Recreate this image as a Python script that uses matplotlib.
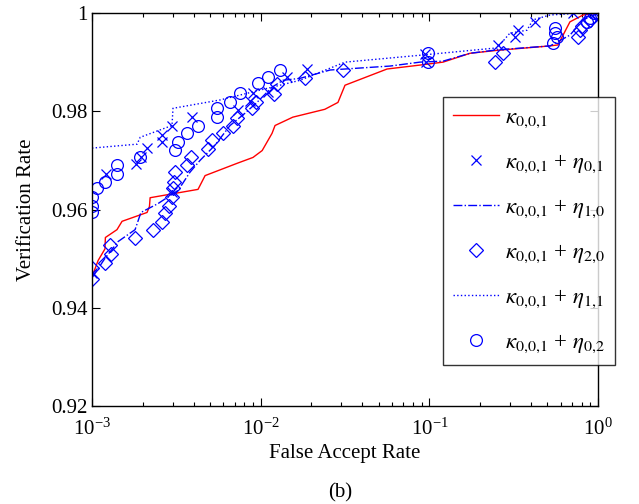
import numpy as np
import matplotlib
matplotlib.use('Agg')
import matplotlib.pyplot as plt
from matplotlib.ticker import LogLocator, NullFormatter, FixedLocator

plt.rcParams['font.family'] = ['Liberation Serif', 'DejaVu Serif']
plt.rcParams['mathtext.fontset'] = 'stix'

# kappa_{0,0,1} (red solid)
far_k = [0.00101, 0.001086, 0.001194, 0.0012, 0.001406, 0.001507, 0.00212, 0.00219, 0.00221,
         0.00425, 0.00468, 0.00724, 0.009, 0.0102, 0.01167, 0.01216, 0.0155, 0.024, 0.0287,
         0.0316, 0.0561, 0.0879, 0.1205, 0.174, 0.252, 0.519, 0.578, 0.681, 0.815, 1.0]
vr_k = [0.9467, 0.9496, 0.952, 0.9543, 0.9559, 0.9576, 0.9594, 0.9606, 0.9624,
        0.9641, 0.9669, 0.9694, 0.9706, 0.972, 0.9755, 0.9771, 0.9788, 0.9804, 0.9818,
        0.9853, 0.9886, 0.9894, 0.990, 0.9918, 0.9924, 0.9933, 0.9935, 0.9982, 0.9996, 1.0]

# + eta_{0,1} (x markers)
far_e01 = [0.001, 0.00121, 0.00182, 0.00195, 0.00212, 0.0026, 0.0026, 0.00298, 0.00298,
           0.00392, 0.00733, 0.00864, 0.009, 0.011, 0.0143, 0.0188, 0.0942, 0.0955,
           0.255, 0.321, 0.335, 0.423, 0.71, 0.96]
vr_e01 = [0.9471, 0.9673, 0.9692, 0.9706, 0.9725, 0.9751, 0.9737, 0.9771, 0.9635,
          0.9788, 0.9802, 0.982, 0.9837, 0.9839, 0.9869, 0.9886, 0.9916, 0.990,
          0.9935, 0.9951, 0.9965, 0.9982, 1.0, 1.0]

# + eta_{1,0} (dash-dot)
far_e10 = [0.001, 0.00119, 0.00143, 0.0018, 0.00195, 0.00246, 0.00324, 0.00381, 0.00437,
           0.00536, 0.00658, 0.00807, 0.0095, 0.01167, 0.01355, 0.0171, 0.0258, 0.0388,
           0.0584, 0.0879, 0.1205, 0.174, 0.252, 0.519, 0.681, 0.815, 1.0]
vr_e10 = [0.9461, 0.950, 0.9535, 0.9559, 0.9594, 0.9612, 0.9639, 0.9676, 0.970,
          0.9731, 0.9771, 0.9796, 0.9818, 0.9849, 0.9863, 0.9867, 0.9884, 0.9888,
          0.9892, 0.990, 0.9902, 0.9918, 0.9925, 0.9933, 0.9955, 0.9986, 1.0]

# + eta_{2,0} (diamonds)
far_e20 = [0.001, 0.001, 0.00119, 0.0013, 0.00128, 0.0018, 0.0023, 0.0026, 0.00271,
           0.00286, 0.00298, 0.00302, 0.00306, 0.0031, 0.00366, 0.00386, 0.00487, 0.00514,
           0.00598, 0.00685, 0.00724, 0.00888, 0.00938, 0.012, 0.0125, 0.0183, 0.0308,
           0.245, 0.273, 0.76, 0.781, 0.803, 0.895, 0.97]
vr_e20 = [0.948, 0.9459, 0.9492, 0.951, 0.9527, 0.9541, 0.9559, 0.9574, 0.9592,
          0.9608, 0.9625, 0.9643, 0.9657, 0.9676, 0.969, 0.9706, 0.9723, 0.9741,
          0.9755, 0.9769, 0.9786, 0.9806, 0.9818, 0.9835, 0.9855, 0.9867, 0.9884,
          0.990, 0.9918, 0.9951, 0.9965, 0.9973, 0.9986, 1.0]

# + eta_{1,1} (dotted)
far_e11 = [0.001, 0.00185, 0.00193, 0.00298, 0.00302, 0.00574, 0.0099, 0.0171, 0.0316,
           0.0879, 0.252, 0.300, 0.379, 0.411, 0.519, 0.815, 1.0]
vr_e11 = [0.9725, 0.9733, 0.9747, 0.9771, 0.9806, 0.9823, 0.9843, 0.9863, 0.990,
          0.9914, 0.9929, 0.9959, 0.9965, 0.9986, 0.9996, 1.0, 1.0]

# + eta_{0,2} (circles)
far_e02 = [0.001, 0.001, 0.001, 0.00107, 0.00119, 0.00141, 0.00141, 0.00193, 0.0031,
           0.00324, 0.00366, 0.00425, 0.00551, 0.00551, 0.00658, 0.00754, 0.00964, 0.011,
           0.013, 0.0982, 0.0982, 0.54, 0.556, 0.556, 0.57, 0.859, 0.895, 0.95]
vr_e02 = [0.9625, 0.9608, 0.9594, 0.9643, 0.9655, 0.9673, 0.969, 0.9706, 0.9721,
          0.9737, 0.9755, 0.9771, 0.9806, 0.9788, 0.9818, 0.9837, 0.9857, 0.9869,
          0.9884, 0.9918, 0.990, 0.9939, 0.9969, 0.9959, 0.9951, 0.9982, 0.999, 1.0]

blue = '#0000ff'
red = '#ff0000'
k = r'$\kappa_{0{,}0{,}1}$'

fig = plt.figure(figsize=(6.39, 5.04), dpi=100)
ax = fig.add_axes([0.144, 0.1944, 0.792, 0.7798])

ax.plot(far_k, vr_k, '-', color=red, lw=1.0, label=k)
ax.plot(far_e01, vr_e01, 'x', color=blue, ms=7, mew=0.9, ls='none',
        label=k + r' + $\eta_{0{,}1}$')
ax.plot(far_e10, vr_e10, '-.', color=blue, lw=1.0, label=k + r' + $\eta_{1{,}0}$')
ax.plot(far_e20, vr_e20, 'D', color=blue, ms=7, mfc='none', mew=0.9, ls='none',
        label=k + r' + $\eta_{2{,}0}$')
ax.plot(far_e11, vr_e11, ':', color=blue, lw=1.0, label=k + r' + $\eta_{1{,}1}$')
ax.plot(far_e02, vr_e02, 'o', color=blue, ms=8.5, mfc='none', mew=0.9, ls='none',
        label=k + r' + $\eta_{0{,}2}$')

ax.set_xscale('log')
ax.set_xlim(1e-3, 1)
ax.set_ylim(0.92, 1.0)
ax.yaxis.set_major_locator(FixedLocator([0.92, 0.94, 0.96, 0.98, 1.0]))
ax.set_yticklabels(['0.92', '0.94', '0.96', '0.98', '1'])
ax.xaxis.set_major_locator(LogLocator(base=10, numticks=10))
ax.xaxis.set_minor_locator(LogLocator(base=10, subs=np.arange(2, 10), numticks=10))
ax.xaxis.set_minor_formatter(NullFormatter())
ax.tick_params(which='both', direction='in', top=True, right=True, labelsize=15)
ax.tick_params(which='major', length=6, width=0.8)
ax.tick_params(which='minor', length=3, width=0.8)
ax.tick_params(axis='x', which='major', pad=9)
ax.tick_params(axis='y', which='major', pad=3)
for s in ax.spines.values():
    s.set_linewidth(1.0)

ax.set_xlabel('False Accept Rate', fontsize=15, labelpad=3)
ax.set_ylabel('Verification Rate', fontsize=15, labelpad=11)

leg = ax.legend(loc='upper left', bbox_to_anchor=(443 / 639, 1 - 97 / 504),
                bbox_transform=fig.transFigure, fontsize=16.5, frameon=True,
                fancybox=False, edgecolor='black', labelspacing=0.95,
                handlelength=2.0, handletextpad=0.25, borderpad=0.45,
                borderaxespad=0)
leg.get_frame().set_linewidth(1.0)

fig.text(0.533, 0.022, '(b)', ha='center', va='center', fontsize=15)

fig.savefig('out.png', dpi=100)
